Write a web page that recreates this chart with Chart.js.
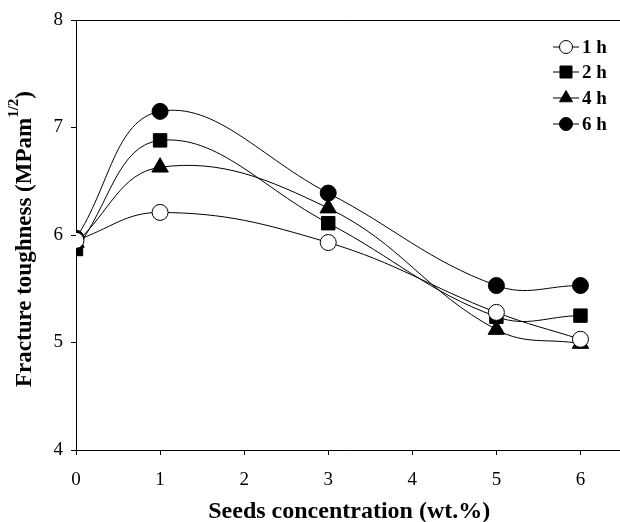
<!DOCTYPE html>
<html>
<head>
<meta charset="utf-8">
<script src="https://cdn.jsdelivr.net/npm/chart.js@4/dist/chart.umd.min.js"></script>
<style>
  html, body { margin: 0; padding: 0; background: #fff; overflow: hidden; }
  #wrap { width: 633px; height: 522px; }
</style>
</head>
<body>
<div id="wrap"><canvas id="toughChart" width="633" height="522"></canvas></div>
<script>
// seeds concentration (wt.%)
const concentration = [0, 1, 3, 5, 6];
const seriesNames = ['1 h', '2 h', '4 h', '6 h'];
const oneHour = [5.95, 6.21, 5.93, 5.28, 5.03];
const twoHour = [5.87, 6.88, 6.11, 5.24, 5.25];
const fourHour = [5.93, 6.63, 6.25, 5.12, 4.99];
const sixHour = [5.97, 7.15, 6.39, 5.53, 5.53];
const xTicks = [0, 1, 2, 3, 4, 5, 6];
const yTicks = [4, 5, 6, 7, 8];

function toPoints(vals) {
    return concentration.map((c, i) => ({ x: c, y: vals[i] }));
}

const styles = [
    { pointStyle: 'circle', fill: '#fff', radius: 8 },
    { pointStyle: 'rect', fill: '#000', radius: 9.5 },
    { pointStyle: 'triangle', fill: '#000', radius: 9.5 },
    { pointStyle: 'circle', fill: '#000', radius: 8 }
];
const allSeries = [oneHour, twoHour, fourHour, sixHour];

const datasets = allSeries.map((vals, i) => ({
    label: seriesNames[i],
    data: toPoints(vals),
    borderColor: '#000',
    borderWidth: 1,
    tension: 0.4,
    pointStyle: styles[i].pointStyle,
    pointRadius: styles[i].radius,
    pointBackgroundColor: styles[i].fill,
    pointBorderColor: '#000',
    pointBorderWidth: 1
}));

// frame top line, y title with superscript, legend inside plot
const extras = {
    id: 'extras',
    afterDraw(chart) {
        const ctx = chart.ctx;
        const a = chart.chartArea;
        ctx.save();
        ctx.strokeStyle = '#000';
        ctx.lineWidth = 1;
        ctx.beginPath();
        ctx.moveTo(a.left, a.top + 0.5);
        ctx.lineTo(a.right, a.top + 0.5);
        ctx.stroke();

        // y axis title
        ctx.translate(25, (a.top + a.bottom) / 2 + 4);
        ctx.rotate(-Math.PI / 2);
        ctx.fillStyle = '#000';
        ctx.textBaseline = 'middle';
        const main = 'Fracture toughness (MPam';
        ctx.font = 'bold 23px "Liberation Serif"';
        const w1 = ctx.measureText(main).width;
        ctx.font = 'bold 15px "Liberation Serif"';
        const w2 = ctx.measureText('1/2').width;
        ctx.font = 'bold 23px "Liberation Serif"';
        const w3 = ctx.measureText(')').width;
        let x0 = -(w1 + w2 + w3) / 2;
        ctx.textAlign = 'left';
        ctx.fillText(main, x0, 0);
        ctx.font = 'bold 15px "Liberation Serif"';
        ctx.fillText('1/2', x0 + w1, -11);
        ctx.font = 'bold 23px "Liberation Serif"';
        ctx.fillText(')', x0 + w1 + w2, 0);
        ctx.restore();

        // legend
        ctx.save();
        const rowY = [47, 72, 98, 124];
        const mx = 566;
        chart.data.datasets.forEach((ds, i) => {
            const y = rowY[i];
            ctx.strokeStyle = '#000';
            ctx.lineWidth = 1;
            ctx.beginPath();
            ctx.moveTo(mx - 13, y);
            ctx.lineTo(mx + 13, y);
            ctx.stroke();
            ctx.fillStyle = styles[i].fill;
            Chart.helpers.drawPoint(ctx, {
                pointStyle: styles[i].pointStyle,
                radius: i === 1 ? 8.5 : (i === 2 ? 7.5 : 6.5),
                borderWidth: 1
            }, mx, y);
            ctx.fillStyle = '#000';
            ctx.font = 'bold 19px "Liberation Serif"';
            ctx.textAlign = 'left';
            ctx.textBaseline = 'middle';
            ctx.fillText(ds.label, mx + 16, y + 1);
        });
        ctx.restore();
    }
};

new Chart('toughChart', {
    type: 'line',
    data: { datasets: datasets },
    options: {
        responsive: false,
        animation: false,
        layout: { padding: { top: 20, right: 2, left: 0, bottom: 0 } },
        plugins: {
            legend: { display: false },
            tooltip: { enabled: false }
        },
        scales: {
            x: {
                type: 'linear',
                min: 0,
                max: 6.5,
                afterBuildTicks: (s) => { s.ticks = xTicks.map(v => ({ value: v })); },
                afterFit: (s) => { s.height = 72; },
                border: { display: true, color: '#000', width: 1 },
                grid: { drawOnChartArea: false, drawTicks: true, tickLength: 5, color: '#000' },
                ticks: {
                    color: '#000',
                    padding: 14,
                    font: { family: 'Liberation Serif', size: 19 }
                },
                title: {
                    display: true,
                    text: 'Seeds concentration (wt.%)',
                    color: '#000',
                    font: { family: 'Liberation Serif', size: 24, weight: 'bold' },
                    padding: { top: 6, bottom: -4 }
                }
            },
            y: {
                min: 4,
                max: 8,
                afterBuildTicks: (s) => { s.ticks = yTicks.map(v => ({ value: v })); },
                afterFit: (s) => { s.width = 76; },
                border: { display: true, color: '#000', width: 1 },
                grid: { drawOnChartArea: false, drawTicks: true, tickLength: 5, color: '#000' },
                ticks: {
                    color: '#000',
                    padding: 8,
                    font: { family: 'Liberation Serif', size: 19 }
                }
            }
        }
    },
    plugins: [extras]
});
</script>
</body>
</html>
